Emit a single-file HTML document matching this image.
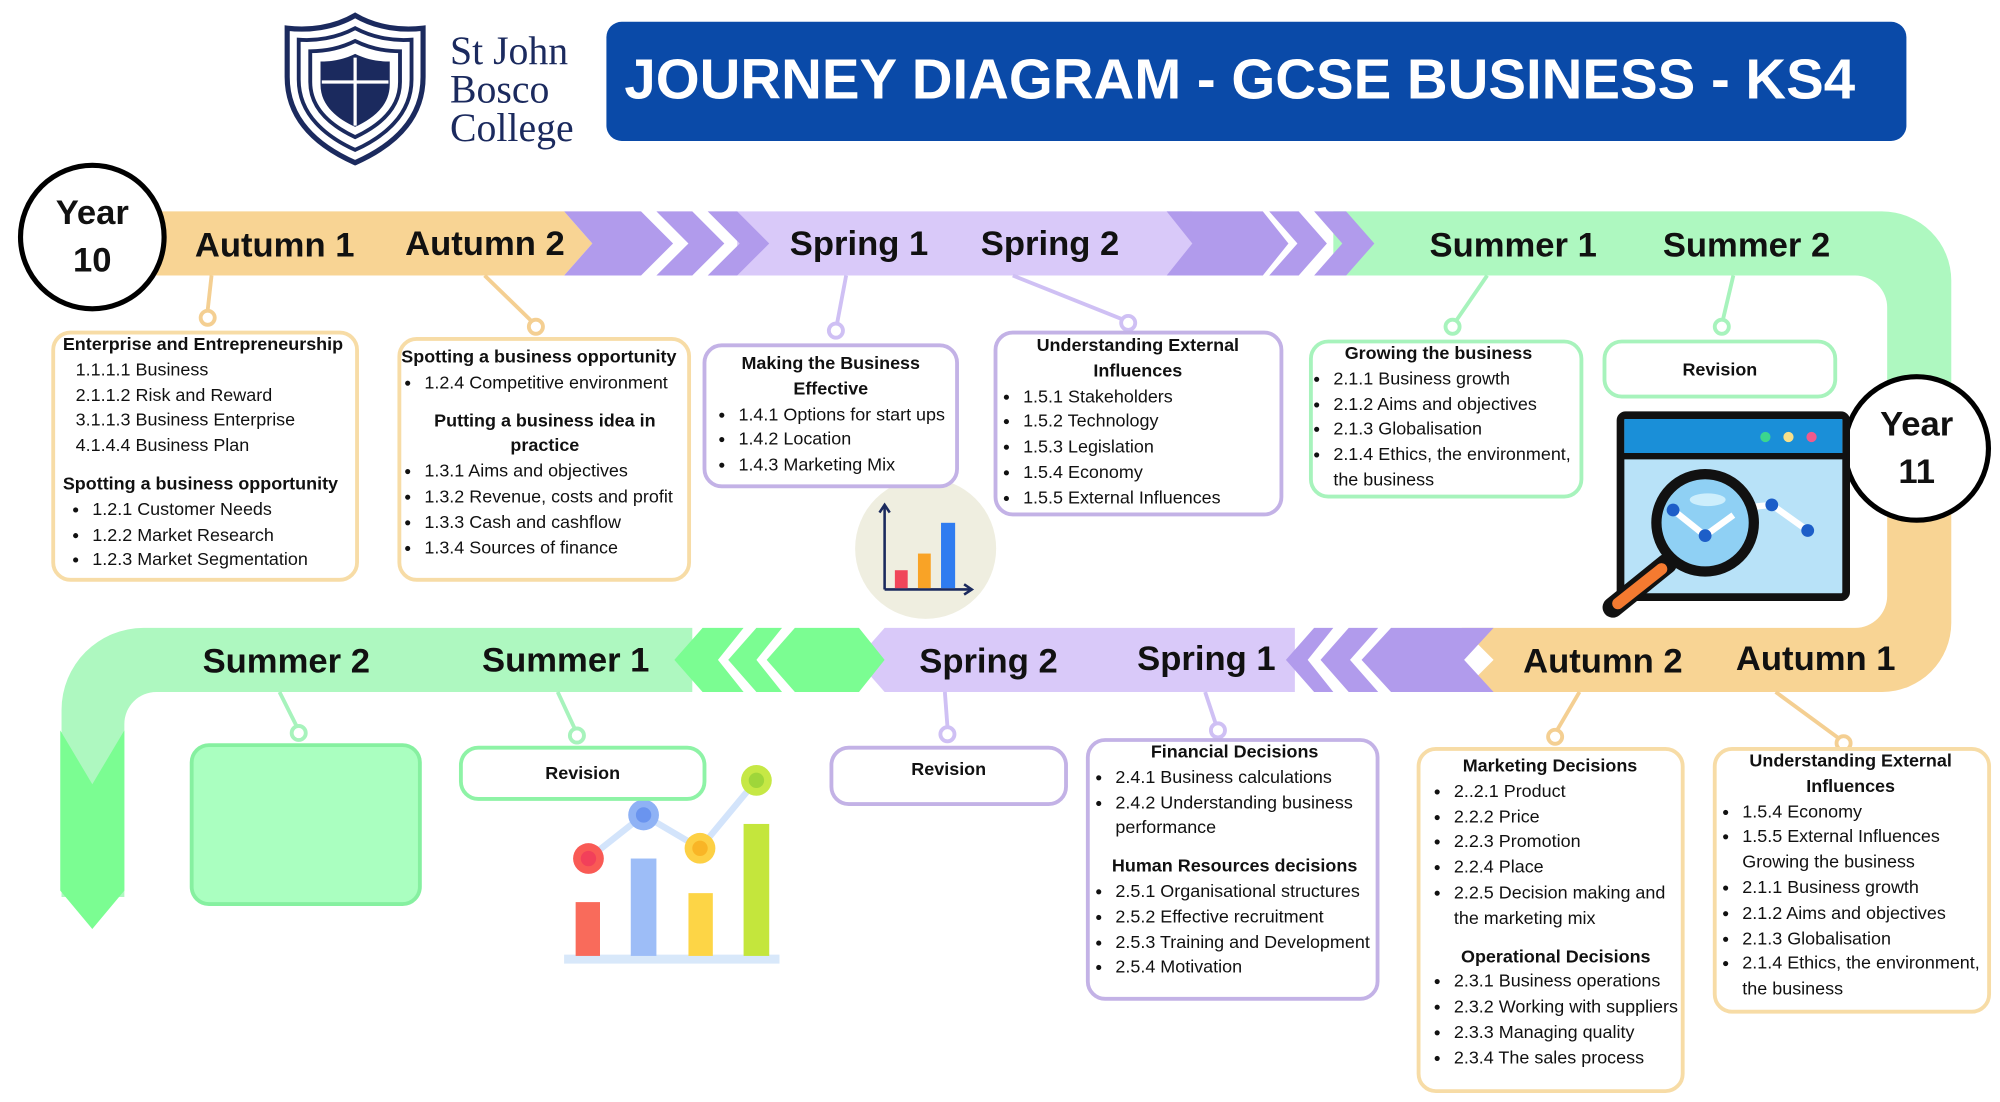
<!DOCTYPE html>
<html><head><meta charset="utf-8">
<style>
html,body{margin:0;padding:0;background:#fff;}
body{width:2000px;height:1102px;overflow:hidden;position:relative;}
#w{position:absolute;left:0;top:0;width:1560px;height:860px;transform:scale(1.28205,1.2814);transform-origin:0 0;font-family:"Liberation Sans",sans-serif;color:#111;}
.a{position:absolute;}
.lab{position:absolute;font-weight:bold;font-size:27px;line-height:30px;white-space:nowrap;color:#111;}
.box{position:absolute;border:3px solid;border-radius:15px;background:#fff;box-sizing:border-box;}
.or{border-color:#f7dca6;}
.pu{border-color:#c3b2e6;}
.gr{border-color:#a7f3bc;}
.t{position:absolute;font-size:14px;line-height:19.8px;white-space:nowrap;}
.t b{font-weight:bold;}
.t ul{margin:0;padding:0 0 0 18px;}
.t li{margin:0;}
.c{text-align:center;}
.gap{height:10px;}
</style></head><body><div id="w">

<svg class="a" style="left:0;top:0" width="1560" height="860" viewBox="0 0 1560 860">
 <polygon points="100,165 440,165 462,190 440,215 100,215" fill="#f8d494"/>
 <polygon points="575,165 930,165 930,215 575,215" fill="#d9c9f9"/>
 <polygon points="440,165 500,165 525,190 500,215 440,215 462,190" fill="#b19bec"/>
 <polygon points="512,165 540,165 565,190 540,215 512,215 537,190" fill="#b19bec"/>
 <polygon points="552,165 575,165 600,190 575,215 552,215 577,190" fill="#b19bec"/>
 <path d="M1040,165 L1468,165 A54,54 0 0 1 1522,219 L1522,400 L1472,400 L1472,240 A25,25 0 0 0 1447,215 L1040,215 Z" fill="#aef8c0"/>
 <polygon points="910,165 985,165 1005,190 985,215 910,215 930,190" fill="#b19bec"/>
 <polygon points="990,165 1013,165 1035,190 1013,215 990,215 1012,190" fill="#b19bec"/>
 <polygon points="1025,165 1050,165 1072,190 1050,215 1025,215 1047,190" fill="#b19bec"/>
 <path d="M1472,400 L1522,400 L1522,486 A54,54 0 0 1 1468,540 L1140,540 L1165,515 L1140,490 L1447,490 A25,25 0 0 0 1472,465 Z" fill="#f8d494"/>
 <polygon points="690,490 1010,490 1010,540 690,540 668,515" fill="#d9c9f9"/>
 <polygon points="1165,490 1085,490 1062,515 1085,540 1165,540 1142,515" fill="#b19bec"/>
 <polygon points="1075,490 1052,490 1030,515 1052,540 1075,540 1053,515" fill="#b19bec"/>
 <polygon points="1040,490 1025,490 1003,515 1025,540 1040,540 1020,515" fill="#b19bec"/>
 <path d="M540,490 L112,490 A64,64 0 0 0 48,554 L48,700 L97,700 L97,565 A25,25 0 0 1 122,540 L540,540 Z" fill="#aef8c0"/>
 <polygon points="670,490 620,490 598,515 620,540 670,540 690,515" fill="#7bfd92"/>
 <polygon points="610,490 590,490 568,515 590,540 610,540 590,515" fill="#7bfd92"/>
 <polygon points="580,490 548,490 526,515 548,540 580,540 560,515" fill="#7bfd92"/>
 <polygon points="47,570 72,612 97,570 97,695 72,725 47,695" fill="#7bfd92"/>

 <g stroke-width="3" fill="#fff">
  <line x1="165" y1="215" x2="162" y2="242" stroke="#f4cf92"/><circle cx="162" cy="248" r="5.5" stroke="#f4cf92"/>
  <line x1="378" y1="215" x2="414" y2="250" stroke="#f4cf92"/><circle cx="418" cy="255" r="5.5" stroke="#f4cf92"/>
  <line x1="660" y1="215" x2="653" y2="252" stroke="#cfc0f4"/><circle cx="652" cy="258" r="5.5" stroke="#cfc0f4"/>
  <line x1="790" y1="215" x2="875" y2="249" stroke="#cfc0f4"/><circle cx="880" cy="252" r="5.5" stroke="#cfc0f4"/>
  <line x1="1160" y1="215" x2="1136" y2="250" stroke="#a7f3bc"/><circle cx="1133" cy="255" r="5.5" stroke="#a7f3bc"/>
  <line x1="1352" y1="215" x2="1344" y2="249" stroke="#a7f3bc"/><circle cx="1343" cy="255" r="5.5" stroke="#a7f3bc"/>
  <line x1="218" y1="540" x2="231" y2="566" stroke="#a7f3bc"/><circle cx="233" cy="572" r="5.5" stroke="#a7f3bc"/>
  <line x1="435" y1="540" x2="448" y2="568" stroke="#a7f3bc"/><circle cx="450" cy="574" r="5.5" stroke="#a7f3bc"/>
  <line x1="737" y1="540" x2="739" y2="567" stroke="#cfc0f4"/><circle cx="739" cy="573" r="5.5" stroke="#cfc0f4"/>
  <line x1="940" y1="540" x2="948" y2="564" stroke="#cfc0f4"/><circle cx="950" cy="570" r="5.5" stroke="#cfc0f4"/>
  <line x1="1232" y1="540" x2="1215" y2="569" stroke="#f4cf92"/><circle cx="1213" cy="575" r="5.5" stroke="#f4cf92"/>
  <line x1="1385" y1="540" x2="1434" y2="576" stroke="#f4cf92"/><circle cx="1438" cy="580" r="5.5" stroke="#f4cf92"/>
 </g>

 <circle cx="72" cy="185" r="56" fill="#fff" stroke="#000" stroke-width="4"/>
 <circle cx="1495" cy="350" r="56" fill="#fff" stroke="#000" stroke-width="4"/>

 <rect x="473" y="17" width="1014" height="93" rx="12" fill="#0a4aa8"/>

 <g fill="none" stroke="#1b2a5e">
  <path d="M277,12 C260,22 240,24 224,22 L224,60 C224,95 250,115 277,127 C304,115 330,95 330,60 L330,22 C314,24 294,22 277,12 Z" stroke-width="4"/>
  <path d="M277,22 C262,30 246,32 233,31 L233,62 C233,90 255,107 277,117 C299,107 321,90 321,62 L321,31 C308,32 292,30 277,22 Z" stroke-width="3"/>
  <path d="M277,32 C265,38 252,40 242,40 L242,64 C242,86 260,99 277,107 C294,99 312,86 312,64 L312,40 C302,40 289,38 277,32 Z" stroke-width="3"/>
 </g>
 <path d="M277,42 C267,47 257,48 250,48 L250,66 C250,83 264,93 277,99 C290,93 304,83 304,66 L304,48 C297,48 287,47 277,42 Z" fill="#1b2a5e"/>
 <line x1="277" y1="45" x2="277" y2="98" stroke="#fff" stroke-width="2.5"/>
 <line x1="251" y1="64" x2="303" y2="64" stroke="#fff" stroke-width="2.5"/>

 <circle cx="722" cy="428" r="55" fill="#efeee0"/>
 <line x1="690" y1="395" x2="690" y2="460" stroke="#1b2a5e" stroke-width="2"/>
 <line x1="690" y1="460" x2="757" y2="460" stroke="#1b2a5e" stroke-width="2"/>
 <polyline points="686,400 690,394 694,400" fill="none" stroke="#1b2a5e" stroke-width="2"/>
 <polyline points="752,456 758,460 752,464" fill="none" stroke="#1b2a5e" stroke-width="2"/>
 <rect x="698" y="445" width="10" height="14" fill="#f0455a"/>
 <rect x="716" y="432" width="10" height="27" fill="#f9a326"/>
 <rect x="734" y="408" width="11" height="51" fill="#2f7cf0"/>

 <rect x="1264" y="324" width="176" height="142" rx="4" fill="#b8e2f8" stroke="#111" stroke-width="6"/>
 <rect x="1267" y="327" width="170" height="27" fill="#1a8fd8"/>
 <line x1="1264" y1="356" x2="1440" y2="356" stroke="#111" stroke-width="5"/>
 <circle cx="1377" cy="341" r="4" fill="#3bd68e"/><circle cx="1395" cy="341" r="4" fill="#f7e08a"/><circle cx="1413" cy="341" r="4" fill="#f05a8c"/>
 <polyline points="1305,398 1330,418 1362,396 1382,394 1410,414" fill="none" stroke="#fff" stroke-width="5"/>
 <circle cx="1382" cy="394" r="5" fill="#1d5ec8"/><circle cx="1410" cy="414" r="5" fill="#1d5ec8"/>
 <line x1="1300" y1="440" x2="1258" y2="474" stroke="#111" stroke-width="16" stroke-linecap="round"/>
 <line x1="1296" y1="444" x2="1262" y2="471" stroke="#f47a30" stroke-width="9" stroke-linecap="round"/>
 <circle cx="1330" cy="408" r="38" fill="#8fd0f4" stroke="#111" stroke-width="8"/>
 <ellipse cx="1332" cy="390" rx="14" ry="5" fill="#cdeefc"/>
 <polyline points="1305,398 1330,418 1352,402" fill="none" stroke="#fff" stroke-width="5"/>
 <circle cx="1305" cy="398" r="5" fill="#1d5ec8"/><circle cx="1330" cy="418" r="5" fill="#1d5ec8"/>

 <rect x="440" y="745" width="168" height="7" fill="#d8e8fa"/>
 <rect x="449" y="704" width="19" height="42" fill="#f96b5b"/>
 <rect x="492" y="670" width="20" height="76" fill="#9dbdf7"/>
 <rect x="537" y="697" width="19" height="49" fill="#fdd546"/>
 <rect x="580" y="643" width="20" height="103" fill="#c4e63c"/>
 <polyline points="459,670 502,636 546,662 590,609" fill="none" stroke="#d3e4fb" stroke-width="5"/>
 <circle cx="459" cy="670" r="12" fill="#f95a55"/><circle cx="459" cy="670" r="6" fill="#f2405a"/>
 <circle cx="502" cy="636" r="12" fill="#8fb2f5"/><circle cx="502" cy="636" r="6" fill="#6a94ef"/>
 <circle cx="546" cy="662" r="12" fill="#fdd044"/><circle cx="546" cy="662" r="6" fill="#f9b526"/>
 <circle cx="590" cy="609" r="12" fill="#c6e845"/><circle cx="590" cy="609" r="6" fill="#9fd63a"/>
</svg>

<div class="a" style="left:351px;top:25px;font-family:'Liberation Serif',serif;font-size:31px;line-height:30px;color:#1b2a5e;">St John<br>Bosco<br>College</div>
<div class="a" style="left:487px;top:38px;font-size:44px;font-weight:bold;color:#fff;white-space:nowrap;line-height:50px;">JOURNEY DIAGRAM - GCSE BUSINESS - KS4</div>

<div class="a" style="left:16px;top:148px;width:112px;text-align:center;font-weight:bold;font-size:27px;line-height:37px;">Year<br>10</div>
<div class="a" style="left:1439px;top:313px;width:112px;text-align:center;font-weight:bold;font-size:27px;line-height:37px;">Year<br>11</div>

<div class="lab" style="left:152px;top:176px;">Autumn 1</div>
<div class="lab" style="left:316px;top:175px;">Autumn 2</div>
<div class="lab" style="left:616px;top:175px;">Spring 1</div>
<div class="lab" style="left:765px;top:175px;">Spring 2</div>
<div class="lab" style="left:1115px;top:176px;">Summer 1</div>
<div class="lab" style="left:1297px;top:176px;">Summer 2</div>
<div class="lab" style="left:158px;top:501px;">Summer 2</div>
<div class="lab" style="left:376px;top:500px;">Summer 1</div>
<div class="lab" style="left:717px;top:501px;">Spring 2</div>
<div class="lab" style="left:887px;top:499px;">Spring 1</div>
<div class="lab" style="left:1188px;top:501px;">Autumn 2</div>
<div class="lab" style="left:1354px;top:499px;">Autumn 1</div>

<div class="box or" style="left:40px;top:258px;width:240px;height:196px;"></div>
<div class="t" style="left:49px;top:259px;"><b>Enterprise and Entrepreneurship</b><div style="padding-left:10px">1.1.1.1 Business<br>2.1.1.2 Risk and Reward<br>3.1.1.3 Business Enterprise<br>4.1.4.4 Business Plan</div><div class="gap"></div><b>Spotting a business opportunity</b><ul style="padding-left:23px"><li>1.2.1 Customer Needs</li><li>1.2.2 Market Research</li><li>1.2.3 Market Segmentation</li></ul></div>

<div class="box or" style="left:310px;top:263px;width:229px;height:191px;"></div>
<div class="t" style="left:313px;top:269px;width:224px;"><b>Spotting a business opportunity</b><ul><li>1.2.4 Competitive environment</li></ul><div class="gap"></div><div class="c"><b>Putting a business idea in<br>practice</b></div><ul><li>1.3.1 Aims and objectives</li><li>1.3.2 Revenue, costs and profit</li><li>1.3.3 Cash and cashflow</li><li>1.3.4 Sources of finance</li></ul></div>

<div class="box pu" style="left:548px;top:268px;width:200px;height:113px;"></div>
<div class="t" style="left:558px;top:274px;width:185px;"><div class="c" style="width:180px"><b>Making the Business<br>Effective</b></div><ul><li>1.4.1 Options for start ups</li><li>1.4.2 Location</li><li>1.4.3 Marketing Mix</li></ul></div>

<div class="box pu" style="left:775px;top:258px;width:226px;height:145px;"></div>
<div class="t" style="left:780px;top:260px;width:215px;"><div class="c"><b>Understanding External<br>Influences</b></div><ul><li>1.5.1 Stakeholders</li><li>1.5.2 Technology</li><li>1.5.3 Legislation</li><li>1.5.4 Economy</li><li>1.5.5 External Influences</li></ul></div>

<div class="box gr" style="left:1021px;top:265px;width:214px;height:124px;"></div>
<div class="t" style="left:1022px;top:266px;width:212px;"><div class="c" style="width:200px"><b>Growing the business</b></div><ul><li>2.1.1 Business growth</li><li>2.1.2 Aims and objectives</li><li>2.1.3 Globalisation</li><li>2.1.4 Ethics, the environment,<br>the business</li></ul></div>

<div class="box gr" style="left:1250px;top:265px;width:183px;height:46px;"></div>
<div class="t c" style="left:1250px;top:279px;width:183px;"><b>Revision</b></div>

<div class="box gr" style="left:148px;top:580px;width:181px;height:127px;background:#aaffc0;border-color:#86f0a0;"></div>

<div class="box gr" style="left:358px;top:582px;width:193px;height:43px;border-color:#8ef3a6;"></div>
<div class="t c" style="left:358px;top:594px;width:193px;"><b>Revision</b></div>

<div class="box pu" style="left:647px;top:582px;width:186px;height:47px;"></div>
<div class="t c" style="left:647px;top:591px;width:186px;"><b>Revision</b></div>

<div class="box pu" style="left:847px;top:576px;width:229px;height:205px;"></div>
<div class="t" style="left:852px;top:577px;width:222px;"><div class="c"><b>Financial Decisions</b></div><ul><li>2.4.1 Business calculations</li><li>2.4.2 Understanding business<br>performance</li></ul><div class="gap"></div><div class="c"><b>Human Resources decisions</b></div><ul><li>2.5.1 Organisational structures</li><li>2.5.2 Effective recruitment</li><li>2.5.3 Training and Development</li><li>2.5.4 Motivation</li></ul></div>

<div class="box or" style="left:1105px;top:583px;width:209px;height:270px;"></div>
<div class="t" style="left:1116px;top:588px;width:195px;"><div class="c" style="width:186px"><b>Marketing Decisions</b></div><ul><li>2..2.1 Product</li><li>2.2.2 Price</li><li>2.2.3 Promotion</li><li>2.2.4 Place</li><li>2.2.5 Decision making and<br>the marketing mix</li></ul><div class="gap"></div><div class="c" style="width:195px"><b>Operational Decisions</b></div><ul><li>2.3.1 Business operations</li><li>2.3.2 Working with suppliers</li><li>2.3.3 Managing quality</li><li>2.3.4 The sales process</li></ul></div>

<div class="box or" style="left:1336px;top:583px;width:217px;height:208px;"></div>
<div class="t" style="left:1341px;top:584px;width:210px;"><div class="c" style="width:205px"><b>Understanding External<br>Influences</b></div><ul><li>1.5.4 Economy</li><li>1.5.5 External Influences</li></ul><div style="padding-left:18px">Growing the business</div><ul><li>2.1.1 Business growth</li><li>2.1.2 Aims and objectives</li><li>2.1.3 Globalisation</li><li>2.1.4 Ethics, the environment,<br>the business</li></ul></div>

</div></body></html>
